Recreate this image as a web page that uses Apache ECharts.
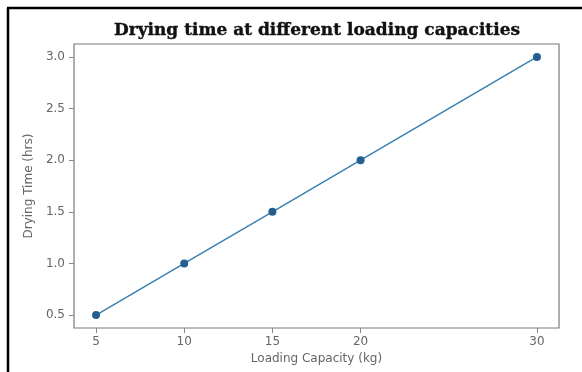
<!DOCTYPE html>
<html>
<head>
<meta charset="utf-8">
<script src="https://cdn.jsdelivr.net/npm/echarts@6/dist/echarts.min.js"></script>
<style>html,body{margin:0;padding:0;background:#fff;}#c{width:582px;height:372px;}</style>
</head>
<body>
<div id="c"></div>
<script>
var capacity = [5, 10, 15, 20, 30];
var dryingTime = [0.5, 1.0, 1.5, 2.0, 3.0];
var xTicks = [5, 10, 15, 20, 30];
var yTicks = [0.5, 1.0, 1.5, 2.0, 2.5, 3.0];

var chart = echarts.init(document.getElementById('c'), null, {renderer: 'canvas'});
var pts = capacity.map(function (c, i) { return [c, dryingTime[i]]; });
chart.setOption({
  animation: false,
  backgroundColor: '#fff',
  title: {
    text: 'Drying time at different loading capacities',
    left: 312, top: 17, textAlign: 'center',
    textStyle: {fontFamily: 'DejaVu Serif', fontWeight: 'bold', fontSize: 17, color: '#111',
      textBorderColor: '#111', textBorderWidth: 0.4}
  },
  grid: {left: 74, right: 23, top: 44, bottom: 44, show: true, borderColor: '#7a7a7a', borderWidth: 1.2},
  xAxis: {
    type: 'value', min: 3.75, max: 31.25,
    name: 'Loading Capacity (kg)', nameLocation: 'middle', nameGap: 23,
    nameTextStyle: {fontFamily: 'DejaVu Sans', fontSize: 12, color: '#666'},
    axisLine: {show: false},
    splitLine: {show: false},
    axisTick: {show: true, customValues: xTicks, length: 5, lineStyle: {color: '#888'}},
    axisLabel: {customValues: xTicks, fontFamily: 'DejaVu Sans', fontSize: 12, color: '#666', margin: 8}
  },
  yAxis: {
    type: 'value', min: 0.375, max: 3.125,
    name: 'Drying Time (hrs)', nameLocation: 'middle', nameGap: 38,
    nameTextStyle: {fontFamily: 'DejaVu Sans', fontSize: 12, color: '#666'},
    axisLine: {show: false},
    splitLine: {show: false},
    axisTick: {show: true, customValues: yTicks, length: 5, lineStyle: {color: '#888'}},
    axisLabel: {customValues: yTicks, fontFamily: 'DejaVu Sans', fontSize: 12, color: '#666', margin: 9,
      formatter: function (v) { return v.toFixed(1); }}
  },
  series: [{
    type: 'line', data: pts,
    symbol: 'circle', symbolSize: 8,
    lineStyle: {color: '#3a80b0', width: 1.5},
    itemStyle: {color: '#245f8f'}
  }],
  graphic: [
    {type: 'line', shape: {x1: 8, y1: 8, x2: 8, y2: 372}, style: {stroke: '#000', lineWidth: 2.5}, silent: true},
    {type: 'line', shape: {x1: 7, y1: 8, x2: 582, y2: 8}, style: {stroke: '#000', lineWidth: 2.5}, silent: true}
  ]
});
</script>
</body>
</html>
